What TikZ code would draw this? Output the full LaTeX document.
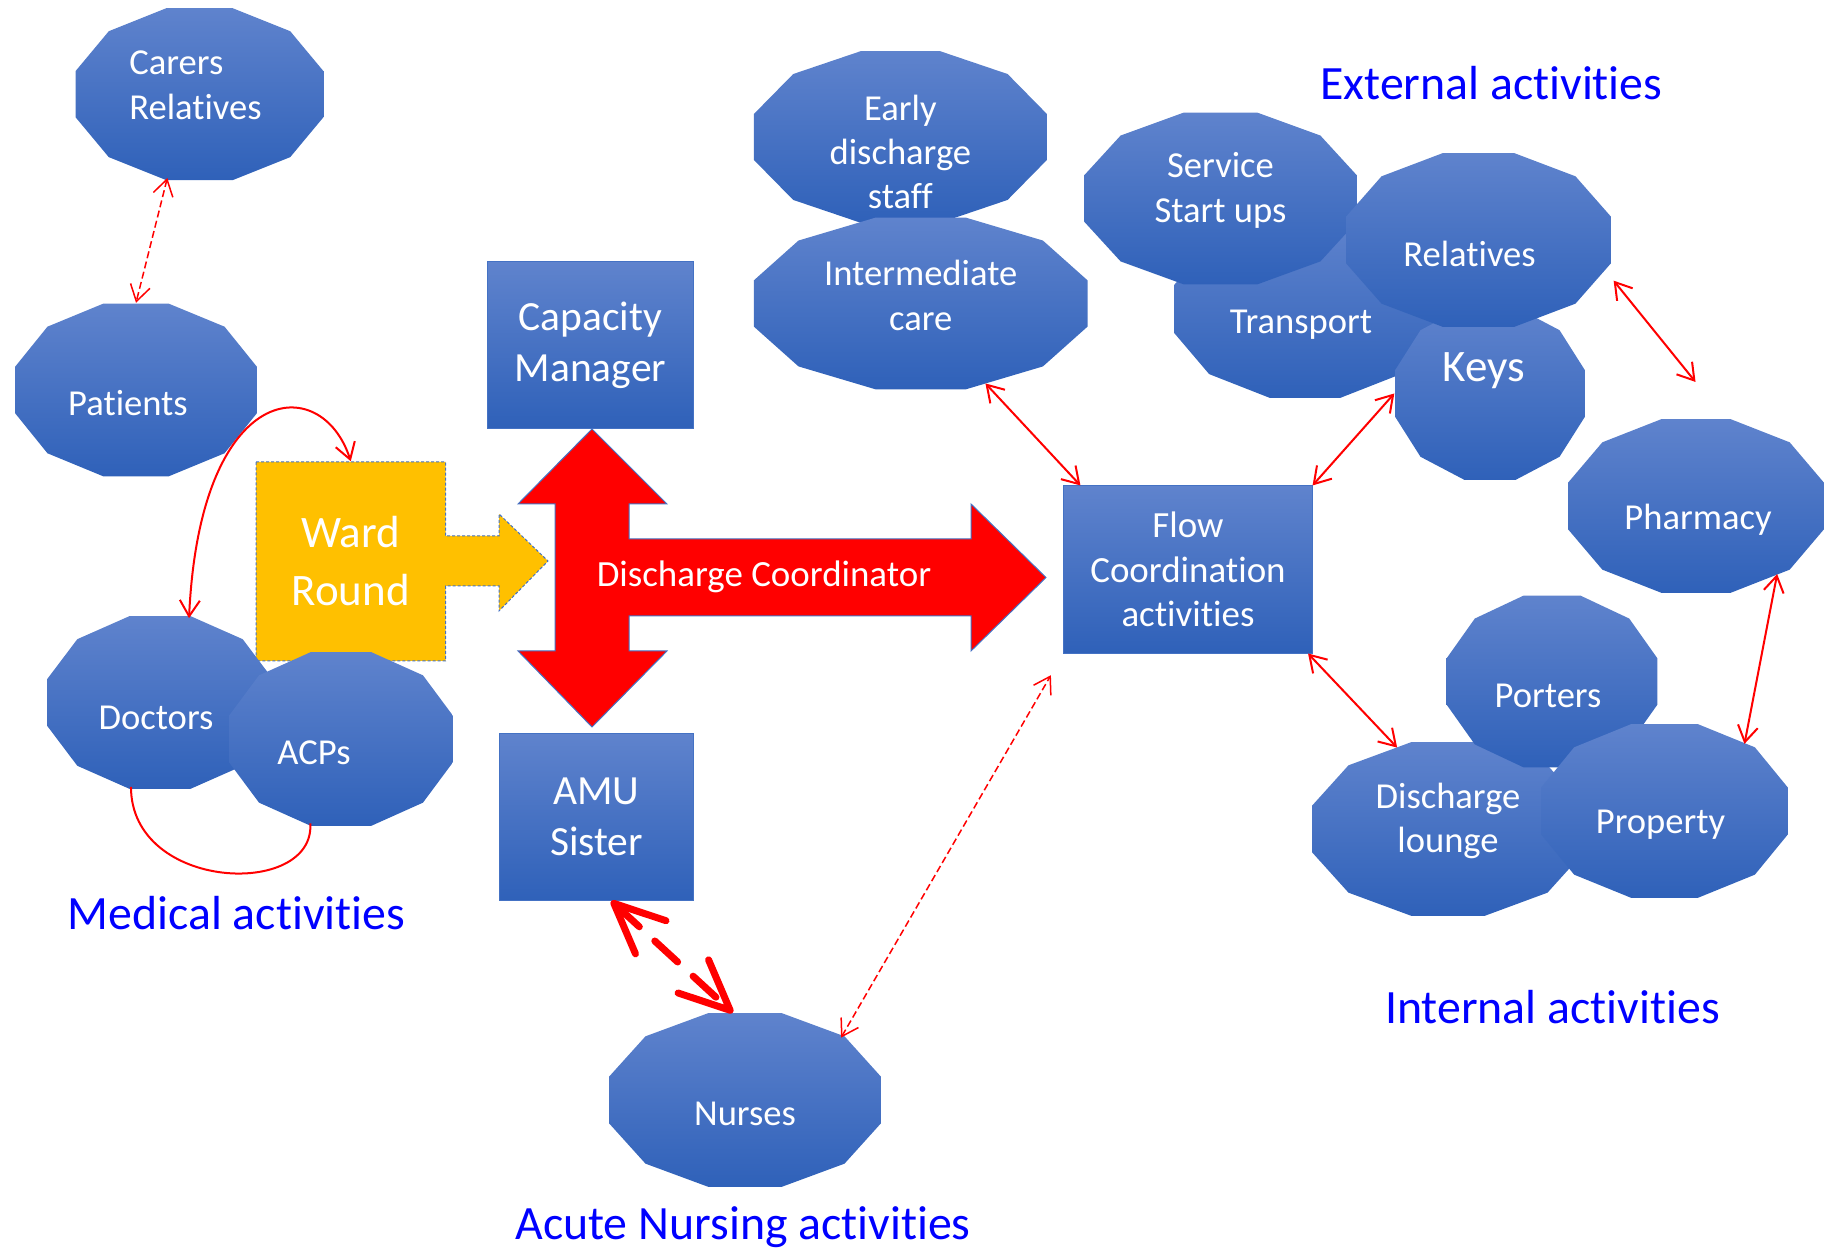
\documentclass[tikz,border=0pt]{standalone}
\usepackage{fontspec}
\setmainfont{Carlito}[Ligatures=CommonOff]
\usetikzlibrary{arrows.meta, shapes.geometric}

\definecolor{blobtop}{RGB}{95,131,205}
\definecolor{blobbot}{RGB}{47,97,185}
\definecolor{edgeblue}{RGB}{68,114,196}
\definecolor{wardgold}{RGB}{255,192,0}
\definecolor{areablue}{RGB}{0,0,255}

\tikzset{
  blob/.style={ellipse, inner sep=0pt},
  blobtext/.style={text=white, align=center, font=\fontsize{10.4}{12.6}\selectfont},
  blobshade/.style={top color=blobtop, bottom color=blobbot},
  box/.style={rectangle, inner sep=0pt, draw=edgeblue, line width=0.01cm, top color=blobtop, bottom color=blobbot, text=white, align=center, font=\fontsize{11.8}{14.5}\selectfont},
  area/.style={text=areablue, anchor=base, font=\fontsize{13.6}{16}\selectfont},
  link/.style={<->, red, line width=0.02cm},
  dashlink/.style={link, line width=0.015cm, dash pattern=on 0.07cm off 0.035cm},
  bigdash/.style={<->, red, line width=0.07cm, line cap=round, dash pattern=on 0.31cm off 0.21cm, >={Straight Barb[length=0.5cm, width=0.45cm, round]}},
}

% twelve sided blob: [label opts] name, centre, width, height, text dx, text dy, text
\newcommand{\blob}[8][]{%
  \shade[blobshade, shift={#3}, xscale=#4/2, yscale=#5/2] (15:1.035) \foreach \a in {45,75,...,345} {-- (\a:1.035)} -- cycle;
  \node[blob, minimum width=#4*0.01cm, minimum height=#5*0.01cm,
    label={[blobtext, xshift=#6*0.01cm, yshift=#7*0.01cm, #1]center:{#8}}] (#2) at #3 {};
}

\begin{document}
\begin{tikzpicture}[x=0.01cm, y=0.01cm, >={Straight Barb[length=0.16cm, width=0.2cm]}]
  \useasboundingbox (0,0) rectangle (1824,1249);

  % medical side
  \blob[align=left]{carers}{(199.5,1154.8)}{248}{172}{-4}{9}{Carers\\Relatives}
  \blob{patients}{(136,859)}{242}{173}{-8}{-13}{Patients}

  \draw[fill=wardgold, draw=edgeblue, line width=0.01cm, dash pattern=on 0.03cm off 0.02cm]
    (256,787) -- (445.5,787) -- (445.5,713) -- (499,713) -- (499,735) -- (548,688) -- (499,638)
    -- (499,663) -- (445.5,663) -- (445.5,588) -- (256,588) -- cycle;
  \node[rectangle, minimum width=1.895cm, minimum height=1.99cm, inner sep=0pt, text=white, align=center,
    font=\fontsize{12.8}{16.5}\selectfont] (ward) at (350.75,687.5) {Ward\\Round};

  \blob{doctors}{(160,546.5)}{226}{173}{-4}{-15}{Doctors}
  \blob{acps}{(341,510)}{224}{174}{-27}{-14}{ACPs}

  % centre
  \node[box, minimum width=2.05cm, minimum height=1.66cm] (capacity) at (590.5,904) {Capacity\\Manager};

  \draw[fill=red, draw=edgeblue, line width=0.01cm]
    (592,820) -- (667,745) -- (629,745) -- (629,710) -- (971,710) -- (971,745) -- (1046,671.5)
    -- (971,598) -- (971,633) -- (629,633) -- (629,598) -- (667,598) -- (592,522) -- (518,598)
    -- (555,598) -- (555,745) -- (518,745) -- cycle;
  \node[text=white, font=\fontsize{10.5}{12.6}\selectfont] (coordinator) at (764,672) {Discharge Coordinator};

  \node[box, minimum width=1.93cm, minimum height=1.67cm] (amu) at (596.5,432) {AMU\\Sister};
  \blob{nurses}{(745,149)}{272}{174}{0}{-14}{Nurses}

  % external
  \blob{early}{(900.4,1112)}{293}{172}{0}{-15}{Early\\discharge\\staff}
  \blob{intermediate}{(920.7,945.5)}{334}{172}{0}{8}{Intermediate\\care}
  \blob{transport}{(1305,940)}{262}{178}{-4}{-16}{Transport}
  \blob{service}{(1220.5,1050.5)}{273}{172}{0}{8}{Service\\Start ups}
  \blob[font=\fontsize{12.8}{15}\selectfont]{keys}{(1490,855.5)}{190}{173}{-6}{23}{Keys}
  \blob{relatives}{(1478.5,1009)}{265}{174}{-9}{-14}{Relatives}
  \blob{pharmacy}{(1696,743)}{256}{174}{2}{-14}{Pharmacy}

  \node[box, minimum width=2.48cm, minimum height=1.67cm, font=\fontsize{10.5}{12.7}\selectfont]
    (flow) at (1188,679.5) {Flow\\Coordination\\activities};

  % internal
  \blob{lounge}{(1448,420)}{272}{174}{0}{8}{Discharge\\lounge}
  \blob{porters}{(1552,567.5)}{211}{172}{-4}{-14}{Porters}
  \blob{property}{(1664.5,438)}{247}{174}{-4}{-14}{Property}

  \node[area] (medical) at (236.5,319) {Medical activities};
  \node[area] (nursing) at (743,9) {Acute Nursing activities};
  \node[area] (external) at (1491.4,1149) {External activities};
  \node[area] (internal) at (1552.5,225.7) {Internal activities};

  % links
  \draw[dashlink] (carers.249) -- (patients.90);
  \draw[link] (doctors.71) .. controls +(11,239) and +(-29,90) .. (ward.north);
  \draw[red, line width=0.02cm] (doctors.251) .. controls +(0,-105) and +(5,-75) .. (acps.250);
  \draw[link] (intermediate.-51) -- (flow.142);
  \draw[link] (keys.180) -- (flow.north east);
  \draw[link, shorten <=0.15cm, shorten >=0.5cm] (relatives.-13) -- (pharmacy.70);
  \draw[link] (pharmacy.-40) -- (property.40);
  \draw[link] (flow.-35) -- (lounge.122);
  \draw[dashlink, shorten >=0.25cm] (nurses.33) -- (flow.south west);
  \draw[bigdash] (amu.-80) -- (nurses.98);
\end{tikzpicture}
\end{document}
